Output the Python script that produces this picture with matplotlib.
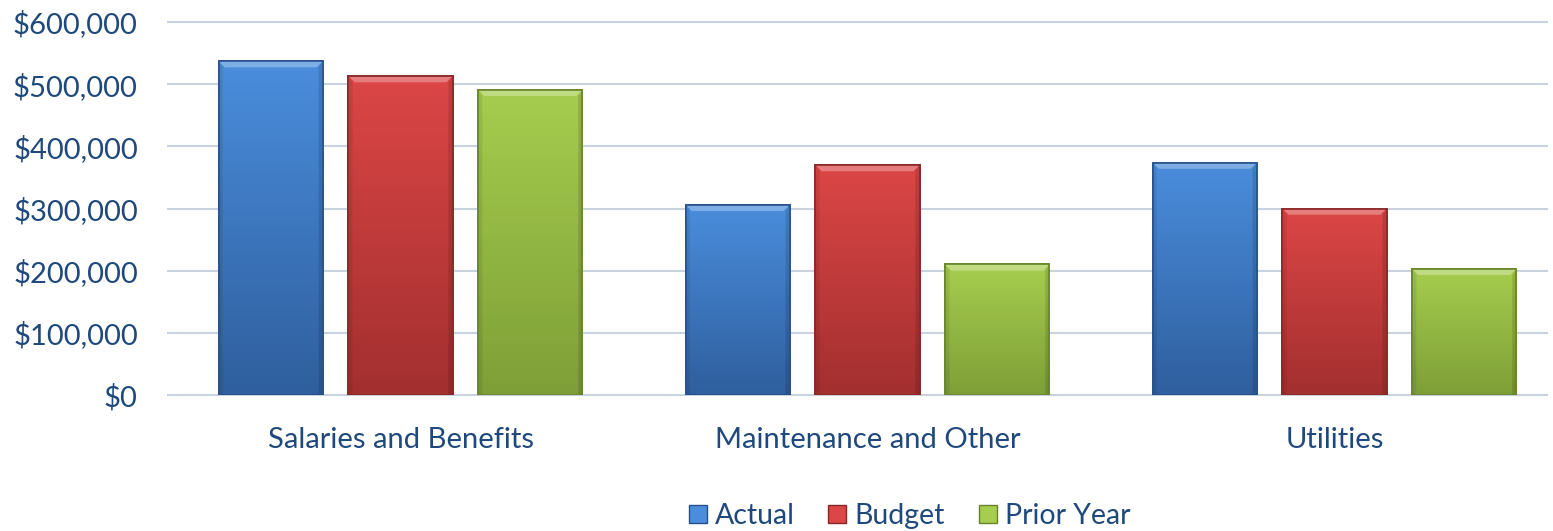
import numpy as np
import matplotlib.pyplot as plt
from matplotlib.colors import LinearSegmentedColormap
from matplotlib.ticker import FuncFormatter

categories = ['Salaries and Benefits', 'Maintenance and Other', 'Utilities']
series = ['Actual', 'Budget', 'Prior Year']
actual = [537000, 306000, 374000]
budget = [513000, 370000, 300000]
prior_year = [491000, 210000, 203000]
y_ticks = [0, 100000, 200000, 300000, 400000, 500000, 600000]

# top / bottom shades for the bevel gradient, plus edge
colors = {
    'Actual': ('#4A8DDC', '#2F5F9E', '#27508A'),
    'Budget': ('#DC4646', '#A32F2F', '#8A2626'),
    'Prior Year': ('#A6CD4E', '#7E9F37', '#67842B'),
}
text_color = '#1F497D'
grid_color = '#C9D2DE'

plt.rcParams['font.family'] = ['Lato', 'DejaVu Sans']

fig = plt.figure(figsize=(15.53, 5.31), dpi=100)
# plot area runs a little past the right edge, as in the original
ax = fig.add_axes([167 / 1553, 0.256, 1401 / 1553, 0.7026])

x = np.arange(len(categories))
width = 0.223
step = 0.278
values = [actual, budget, prior_year]

handles = []
for i, (name, vals) in enumerate(zip(series, values)):
    top, bottom, edge = colors[name]
    cmap = LinearSegmentedColormap.from_list(name, [bottom, top])
    bars = ax.bar(x + (i - 1) * step, vals, width, color=top, edgecolor=edge,
                  linewidth=1.2, zorder=3, label=name)
    for b in bars:
        bx, bw, bh = b.get_x(), b.get_width(), b.get_height()
        grad = np.linspace(0, 1, 100).reshape(-1, 1)
        im = ax.imshow(grad, cmap=cmap, origin='lower', aspect='auto',
                       extent=[bx, bx + bw, 0, bh], zorder=3.5)
        im.set_clip_path(b)
        # light bevel strip along the top
        ax.fill([bx, bx + bw, bx + bw * 0.94, bx + bw * 0.06],
                [bh, bh, bh - 10000, bh - 10000],
                color='white', alpha=0.3, lw=0, zorder=4)
        # darker sides
        ax.fill([bx, bx + bw * 0.04, bx + bw * 0.04, bx],
                [0, 0, bh - 10000, bh], color='black', alpha=0.08, lw=0, zorder=4)
        ax.fill([bx + bw, bx + bw * 0.96, bx + bw * 0.96, bx + bw],
                [0, 0, bh - 10000, bh], color='black', alpha=0.12, lw=0, zorder=4)
        ax.bar(bx + bw / 2, bh, bw, fill=False, edgecolor=edge, linewidth=1.2, zorder=5)
    handles.append(plt.Line2D([], [], marker='s', ls='', markersize=13,
                              markerfacecolor=colors[name][0],
                              markeredgecolor=colors[name][2], label=name))

ax.set_xlim(-0.5, 2.5)
ax.set_ylim(0, 600000)
ax.set_yticks(y_ticks)
ax.yaxis.set_major_formatter(FuncFormatter(lambda v, p: f'${v:,.0f}'))
ax.set_xticks(x)
ax.set_xticklabels(categories)
# gridlines stop a bit short of the right edge
ax.hlines(y_ticks, -0.5, 2.457, color=grid_color, linewidth=1.5, zorder=0,
          clip_on=False)
for s in ax.spines.values():
    s.set_visible(False)
ax.tick_params(axis='both', length=0, labelsize=21, colors=text_color)
ax.tick_params(axis='y', pad=21)
ax.tick_params(axis='x', pad=23)

fig.legend(handles=handles, loc='lower center', bbox_to_anchor=(0.583, -0.045),
           ncol=3, frameon=False, fontsize=20.5, labelcolor=text_color,
           handletextpad=0.0, columnspacing=0.9, handlelength=1.2)

fig.savefig('out.png', dpi=100)
